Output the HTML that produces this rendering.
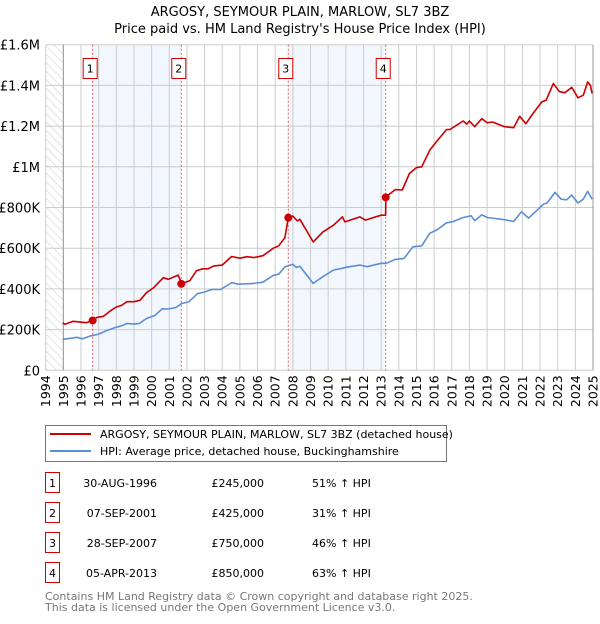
<!DOCTYPE html>
<html><head><meta charset="utf-8"><style>
body{margin:0;background:#fff;font-family:"DejaVu Sans","Liberation Sans",sans-serif}
svg text{font-family:"DejaVu Sans","Liberation Sans",sans-serif}
</style></head><body>
<svg id="c" width="600" height="620" xmlns="http://www.w3.org/2000/svg">
<defs><pattern id="hatch" width="6" height="6" patternUnits="userSpaceOnUse" patternTransform="rotate(-45)"><line x1="0" y1="0" x2="0" y2="6" stroke="#ccc" stroke-width="1"/></pattern></defs>
<text x="300" y="16" text-anchor="middle" font-size="13" fill="#000">ARGOSY, SEYMOUR PLAIN, MARLOW, SL7 3BZ</text>
<text x="300" y="33" text-anchor="middle" font-size="13" fill="#000">Price paid vs. HM Land Registry's House Price Index (HPI)</text>
<g id="plot"></g>
<g>
<rect x="45.5" y="425.5" width="401" height="36" fill="#fff" stroke="#777"/>
<line x1="50" y1="434" x2="91" y2="434" stroke="#cc0000" stroke-width="2"/>
<text x="100" y="438" font-size="11">ARGOSY, SEYMOUR PLAIN, MARLOW, SL7 3BZ (detached house)</text>
<line x1="50" y1="451" x2="91" y2="451" stroke="#5b8fd4" stroke-width="2"/>
<text x="100" y="455" font-size="11">HPI: Average price, detached house, Buckinghamshire</text>
</g>
<g id="table" font-size="11"></g>
<text x="45" y="600" font-size="11" fill="#777">Contains HM Land Registry data © Crown copyright and database right 2025.</text>
<text x="45" y="611" font-size="11" fill="#777">This data is licensed under the Open Government Licence v3.0.</text>
</svg>
<script>
const yTicks=[0,200,400,600,800,1000,1200,1400,1600];
const yTickLabels=["£0","£200K","£400K","£600K","£800K","£1M","£1.2M","£1.4M","£1.6M"];
const years=[1994,1995,1996,1997,1998,1999,2000,2001,2002,2003,2004,2005,2006,2007,2008,2009,2010,2011,2012,2013,2014,2015,2016,2017,2018,2019,2020,2021,2022,2023,2024,2025];
const saleLabels=["1","2","3","4"];
const saleDates=[1996.66,2001.68,2007.74,2013.26];
const saleValues=[245,425,750,850];
const saleDateText=["30-AUG-1996","07-SEP-2001","28-SEP-2007","05-APR-2013"];
const salePriceText=["£245,000","£425,000","£750,000","£850,000"];
const saleHpiText=["51% ↑ HPI","31% ↑ HPI","46% ↑ HPI","63% ↑ HPI"];
const redT=[1994.96,1995.1,1995.56,1996.3,1996.66,1996.9,1997.26,1997.64,1998.0,1998.3,1998.6,1999.0,1999.34,1999.7,2000.1,2000.66,2000.95,2001.5,2001.6,2001.68,2002.17,2002.55,2002.9,2003.2,2003.5,2004.0,2004.53,2005.0,2005.4,2005.8,2006.3,2006.9,2007.2,2007.55,2007.74,2008.0,2008.25,2008.4,2009.15,2009.7,2010.3,2010.8,2010.95,2011.8,2012.1,2013.0,2013.25,2013.27,2013.8,2014.2,2014.6,2015.0,2015.3,2015.75,2016.2,2016.7,2016.9,2017.65,2017.85,2018.0,2018.3,2018.7,2019.0,2019.3,2020.0,2020.5,2020.85,2021.2,2021.6,2022.1,2022.35,2022.75,2023.1,2023.4,2023.8,2024.15,2024.45,2024.7,2024.85,2024.95];
const redV=[234,226,241,234,245,260,265,291,311,319,337,337,344,381,405,455,447,468,447,425,441,490,499,499,512,517,559,551,558,554,563,600,612,652,750,758,734,742,631,680,713,754,729,754,738,762,762,852,888,886,967,996,1000,1081,1130,1183,1184,1225,1210,1225,1197,1237,1216,1220,1197,1192,1248,1212,1262,1319,1328,1409,1369,1364,1390,1339,1352,1417,1400,1360];
const blueT=[1994.96,1995.76,1996.1,1996.5,1997.0,1997.4,1997.9,1998.4,1998.6,1999.0,1999.3,1999.7,2000.2,2000.6,2000.95,2001.4,2001.68,2002.1,2002.6,2003.0,2003.4,2003.9,2004.55,2004.9,2005.7,2006.3,2006.9,2007.2,2007.55,2008.0,2008.2,2008.4,2009.15,2009.7,2010.3,2010.8,2011.0,2011.8,2012.2,2013.0,2013.3,2013.8,2014.3,2014.8,2015.3,2015.75,2016.2,2016.7,2017.05,2017.65,2018.1,2018.3,2018.7,2019.0,2020.0,2020.5,2020.95,2021.35,2021.7,2022.2,2022.4,2022.85,2023.2,2023.5,2023.8,2024.15,2024.45,2024.7,2024.95];
const blueV=[152,162,155,168,178,193,209,222,230,227,230,254,271,302,301,309,328,336,377,385,397,397,431,423,426,433,467,472,508,521,505,511,427,460,493,501,506,517,509,526,526,545,550,607,612,673,692,725,730,751,759,735,764,751,740,731,779,748,776,817,822,874,841,838,861,822,841,879,841];

const NS="http://www.w3.org/2000/svg";
const L=45.7,R=593,T=44.7,B=370.3;
const X=y=>L+(y-1994)/(2025-1994)*(R-L);
const Y=v=>B-v/1600*(B-T);
const plot=document.getElementById('plot');
function mk(tag,attrs,parent){const e=document.createElementNS(NS,tag);for(const k in attrs)e.setAttribute(k,attrs[k]);(parent||plot).appendChild(e);return e;}
for(let i=0;i<saleDates.length;i+=2){
 const b=mk('rect',{x:X(saleDates[i]),y:T,width:X(saleDates[i+1])-X(saleDates[i]),height:B-T,fill:'#eef3fc',opacity:0.75});
 
 
}
const h=mk('rect',{x:L,y:T,width:X(1995)-L,height:B-T,fill:'url(#hatch)'});


years.forEach(yr=>{
 const g=mk('line',{x1:X(yr),x2:X(yr),y1:T,y2:B,stroke:'#ccc','stroke-width':1});
 
 
 const t=mk('text',{x:0,y:0,'font-size':12.5,'text-anchor':'end',transform:`translate(${X(yr)+4.5},${B+5}) rotate(-90)`});
 t.textContent=yr;
 
 
});
yTicks.forEach((v,i)=>{
 const g=mk('line',{x1:L,x2:R,y1:Y(v),y2:Y(v),stroke:'#ccc','stroke-width':1});
 
 
 const t=mk('text',{x:40,y:Y(v)+5,'font-size':13,'text-anchor':'end'});
 t.textContent=yTickLabels[i];
 
 
});
mk('line',{x1:X(1995),x2:X(1995),y1:T,y2:B,stroke:'#999'});
mk('line',{x1:R,x2:R,y1:T,y2:B,stroke:'#999'});
saleDates.forEach((d,i)=>{
 const l=mk('line',{x1:X(d),x2:X(d),y1:T,y2:B,stroke:'#e06060','stroke-width':1,'stroke-dasharray':'2,2'});
 
 
 const bx=mk('rect',{x:X(d)-9.5,y:58.5,width:14,height:20,fill:'#fff',stroke:'#cc0000'});
 
 
 const t=mk('text',{x:X(d)-2.5,y:72.5,'font-size':11,'text-anchor':'middle'});
 t.textContent=saleLabels[i];
 
 
});
function line(ts,vs,color,name){
 const p=mk('polyline',{points:ts.map((t,i)=>X(t).toFixed(1)+','+Y(vs[i]).toFixed(1)).join(' '),fill:'none',stroke:color,'stroke-width':1.6,'stroke-linejoin':'round'});
 
 
}
line(blueT,blueV,'#5b8fd4','hpi-line');
line(redT,redV,'#cc0000','price-paid-line');
saleDates.forEach((d,i)=>{
 const c=mk('circle',{cx:X(d),cy:Y(saleValues[i]),r:4,fill:'#cc0000'});
 
 
});
const tb=document.getElementById('table');
saleLabels.forEach((lab,i)=>{
 const y=483+i*30;
 const r=mk('rect',{x:45.5,y:y-10.5,width:14,height:20,fill:'#fff',stroke:'#cc0000'},tb);
 
 
 const cols=[[52.5,lab,'middle','table-row-number'],[157,saleDateText[i],'end','table-row-date'],[264,salePriceText[i],'end','table-row-price'],[312,saleHpiText[i],'start','table-row-hpi-change']];
 cols.forEach(c=>{
  const t=mk('text',{x:c[0],y:y+4,'text-anchor':c[2],'font-size':11},tb);
  t.textContent=c[1];
  
  
 });
});
</script>
</body></html>
